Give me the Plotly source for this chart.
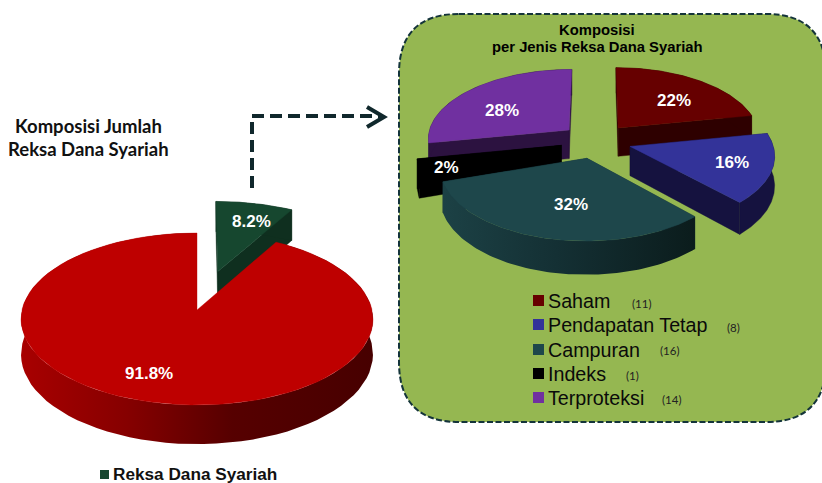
import numpy as np
import plotly.graph_objects as go

# ---- data ----
left_labels = ["Reksa Dana Syariah", "Lainnya"]
left_values = [8.2, 91.8]
right_categories = ["Saham", "Pendapatan Tetap", "Campuran", "Indeks", "Terproteksi"]
right_counts = [11, 8, 16, 1, 14]

# ---- style ----
GREEN, GREEN_DK = "#16472F", "#0F2F1F"
RED = "#BE0000"
TOP = ["#660000", "#333399", "#1E474B", "#000000", "#7030A0"]
SIDE = ["#2E0000", "#15123F", "#15333A", "#000000", "#2C1240"]
PANEL = "#95B751"
DARK = "#14343A"
SANS = "Liberation Sans"


class Pie:
    """A tilted pie with perspective; every mark is projected from its value."""

    def __init__(self, cx, cy, R, q, p, H):
        self.cx, self.cy, self.R, self.q, self.p, self.H = cx, cy, R, q, p, H

    def project(self, X, Y, drop=0.0):
        s = 1 / (1 + self.p * Y)
        return self.cx + self.R * X * s, self.cy - self.R * self.q * Y * s + drop * self.H * s

    def rim(self, t0, t1, e, drop=0.0):
        m = np.radians((t0 + t1) / 2)
        t = np.radians(np.linspace(t0, t1, 90))
        return self.project(np.sin(t) + e * np.sin(m), np.cos(t) + e * np.cos(m), drop)

    def apex(self, t0, t1, e, drop=0.0):
        m = np.radians((t0 + t1) / 2)
        x, y = self.project(np.array([e * np.sin(m)]), np.array([e * np.cos(m)]), drop)
        return x, y


fig = go.Figure()


def poly(x, y, color=None, gradient=None):
    kw = dict(fillgradient=gradient) if gradient else dict(fillcolor=color)
    fig.add_trace(go.Scatter(x=list(x), y=list(y), mode="lines", fill="toself",
                             line=dict(width=0.4, color=color or "rgba(0,0,0,0)"),
                             hoverinfo="skip", showlegend=False, **kw))


def top_face(pie, t0, t1, e, color):
    ax, ay = pie.apex(t0, t1, e)
    rx, ry = pie.rim(t0, t1, e)
    poly(np.r_[ax, rx, ax], np.r_[ay, ry, ay], color)


def rim_wall(pie, t0, t1, e, color=None, gradient=None):
    x0, y0 = pie.rim(t0, t1, e)
    x1, y1 = pie.rim(t0, t1, e, 1.0)
    poly(np.r_[x0, x1[::-1], x0[:1]], np.r_[y0, y1[::-1], y0[:1]], color, gradient)


def cut_wall(pie, idx, t0, t1, e, color):
    ax, ay = pie.apex(t0, t1, e)
    bx, by = pie.apex(t0, t1, e, 1.0)
    rx, ry = pie.rim(t0, t1, e)
    dx, dy = pie.rim(t0, t1, e, 1.0)
    poly([ax[0], rx[idx], dx[idx], bx[0], ax[0]], [ay[0], ry[idx], dy[idx], by[0], ay[0]], color)


# ---- left pie ----
L = Pie(197, 310, 175, 0.486, 0.105, 35)
sw = 360 * left_values[0] / sum(left_values)
cut_wall(L, -1, 0, sw, 0.49, GREEN_DK)
cut_wall(L, 0, 0, sw, 0.49, GREEN_DK)
rim_wall(L, 0, sw, 0.49, GREEN_DK)
top_face(L, 0, sw, 0.49, GREEN)
rim_wall(L, sw, 360, 0, gradient=dict(type="horizontal", colorscale=[
    [0, "#A80000"], [0.3, "#860000"], [0.6, "#560000"], [1, "#470000"]]))
top_face(L, sw, 360, 0, RED)

# ---- right pie ----
Rp = Pie(596, 141, 142, 0.49, 0.11, 29)
E = 0.25
edges = np.r_[0, np.cumsum(right_counts)] * 360 / sum(right_counts)
for i in [0, 4, 1, 3, 2]:
    t0, t1 = edges[i], edges[i + 1]
    cut_wall(Rp, 0, t0, t1, E, SIDE[i])
    cut_wall(Rp, -1, t0, t1, E, SIDE[i])
    if i == 2:
        rim_wall(Rp, t0, t1, E, gradient=dict(type="horizontal", colorscale=[
            [0, "#1C4145"], [0.45, "#143034"], [1, "#0B1C1C"]]))
    else:
        rim_wall(Rp, t0, t1, E, SIDE[i])
    top_face(Rp, t0, t1, E, TOP[i])

# ---- legend squares ----
leg_y = [300.5, 324.5, 349.5, 373.5, 397.5]
fig.add_trace(go.Scatter(x=[538.5] * 5, y=leg_y, mode="markers", hoverinfo="skip", showlegend=False,
                         marker=dict(symbol="square", size=11, color=TOP, line=dict(width=0))))
fig.add_trace(go.Scatter(x=[104.5], y=[474.5], mode="markers", hoverinfo="skip", showlegend=False,
                         marker=dict(symbol="square", size=9, color=GREEN, line=dict(width=0))))


def text(x, y, s, size, color="#000000", bold=False, family=SANS, anchor="center"):
    fig.add_annotation(x=x, y=y, text=f"<b>{s}</b>" if bold else s, showarrow=False,
                       xanchor=anchor, yanchor="middle", align="center",
                       font=dict(family=family, size=size, color=color))


# left titles and labels
text(88, 126, "Komposisi Jumlah", 18.5, bold=True, family="Lato", color="#111111")
text(88, 149, "Reksa Dana Syariah", 18.5, bold=True, family="Lato", color="#111111")
text(251, 221, f"{left_values[0]}%", 17, "#FFFFFF", True)
text(149, 373, f"{left_values[1]}%", 17, "#FFFFFF", True)
text(111, 474, left_labels[0], 17.2, "#111111", True, anchor="left")

# right title and labels
text(597, 30, "Komposisi", 14.8, bold=True)
text(597, 47, "per Jenis Reksa Dana Syariah", 14.8, bold=True)
pct_x = [674, 732, 571, 446, 502]
pct_y = [100, 162, 204, 167, 110]
total = sum(right_counts)
for c, x, y in zip(right_counts, pct_x, pct_y):
    text(x, y, f"{round(100 * c / total)}%", 17, "#FFFFFF", True)

count_x = [641, 733, 669, 632, 671]
count_y = [303, 327, 350, 375, 399]
label_y = [301, 325, 349.5, 374, 398]
for cat, c, y, cx, cy in zip(right_categories, right_counts, label_y, count_x, count_y):
    text(546, y, cat, 19.7, "#0A0A0A", anchor="left")
    text(cx, cy, f"({c})", 11.5, "#222222", family="Lato")

fig.update_layout(
    width=822, height=483, margin=dict(l=0, r=0, t=0, b=0),
    paper_bgcolor="#FFFFFF", plot_bgcolor="#FFFFFF", showlegend=False,
    xaxis=dict(range=[0, 822], visible=False, fixedrange=True),
    yaxis=dict(range=[483, 0], visible=False, fixedrange=True),
    shapes=[
        dict(type="path", layer="below", xref="x", yref="y",
             path="M 459,14 L 766,14 Q 826,14 826,74 L 826,362 Q 826,422 766,422 "
                  "L 459,422 Q 399,422 399,362 L 399,74 Q 399,14 459,14 Z",
             fillcolor=PANEL, line=dict(color=DARK, width=2, dash="6px,2.5px")),
        dict(type="path", xref="x", yref="y", path="M 252,188 L 252,116 L 382,116",
             line=dict(color="#10282C", width=4, dash="12px,6px")),
        dict(type="path", xref="x", yref="y", path="M 367,107 L 384,117 L 367,127",
             line=dict(color="#10282C", width=4)),
    ],
)
fig.write_html("out.html", config={"displayModeBar": False},
               post_script="document.body.style.margin='0';document.documentElement.style.overflow='hidden';")
